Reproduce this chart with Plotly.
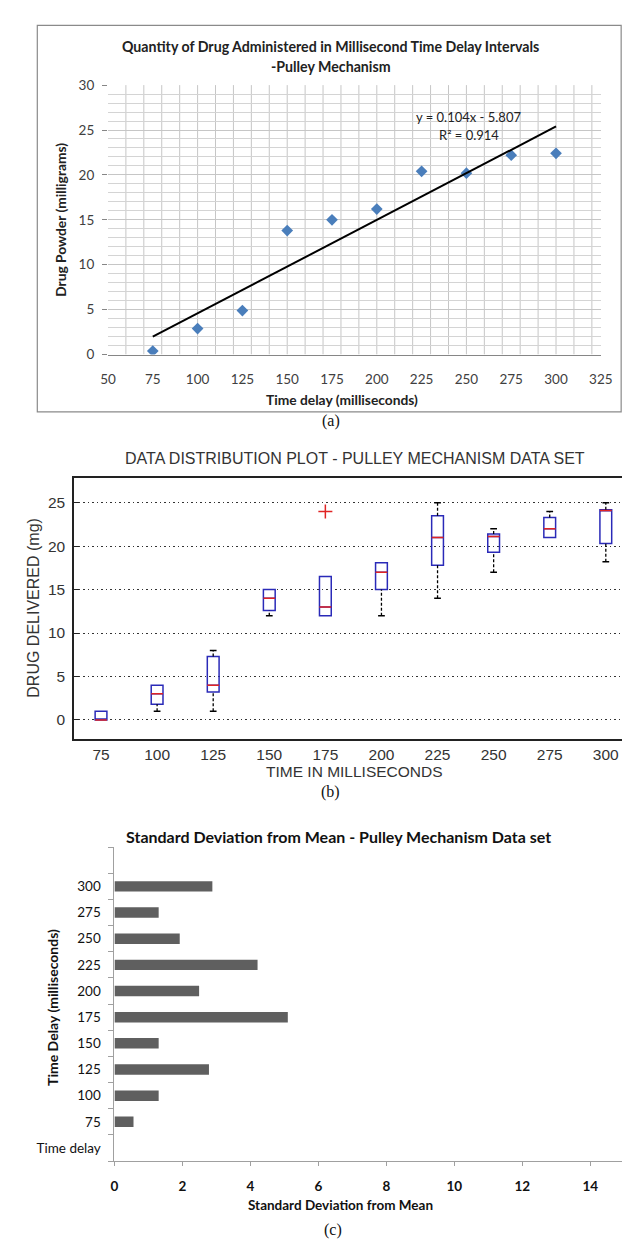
import plotly.graph_objects as go

W, H = 630, 1242

# ---------------- data ----------------
# (a) scatter: mean drug powder per time delay
time_delay = [75, 100, 125, 150, 175, 200, 225, 250, 275, 300]
drug_powder = [0.4, 2.9, 4.9, 13.8, 15.0, 16.2, 20.4, 20.2, 22.2, 22.4]
trend_slope = 0.104
trend_intercept = -5.807
trend_r2 = 0.914

# (b) box plot statistics
box_labels = ["75", "100", "125", "150", "175", "200", "225", "250", "275", "300"]
box_q1 = [0, 1.8, 3.2, 12.6, 12.0, 15.0, 17.8, 19.3, 21.0, 20.3]
box_median = [0, 3.0, 4.0, 14.0, 13.0, 17.0, 21.0, 21.1, 22.0, 24.1]
box_q3 = [1.0, 4.0, 7.3, 15.0, 16.5, 18.1, 23.5, 21.4, 23.3, 24.2]
box_wlow = [0, 1.0, 1.0, 12.0, 12.0, 12.0, 14.0, 17.0, 21.0, 18.2]
box_whigh = [1.0, 4.0, 8.0, 15.0, 16.5, 18.1, 25.0, 22.0, 24.0, 25.0]
outlier_label = ["175"]
outlier_value = [24.0]

# (c) standard deviation bars
sd_labels = ["Time delay", "75", "100", "125", "150", "175", "200", "225", "250", "275", "300", " "]
sd_values = [None, 0.56, 1.30, 2.78, 1.30, 5.10, 2.49, 4.21, 1.92, 1.30, 2.88, None]


def px_x(p):
    return p / W


def px_y(p):
    return 1 - p / H


CAL = "Lato"
ARIAL = "Liberation Sans"
TIMES = "Liberation Serif"

fig = go.Figure()

# ---------------- panel (a) ----------------
fig.add_trace(go.Scatter(
    x=time_delay, y=drug_powder, mode="markers",
    marker=dict(symbol="diamond", size=9, color="#4a7ebb"),
    xaxis="x", yaxis="y", hoverinfo="x+y"))
tx = [min(time_delay), max(time_delay)]
fig.add_trace(go.Scatter(
    x=tx, y=[trend_slope * v + trend_intercept for v in tx], mode="lines",
    line=dict(color="black", width=2), xaxis="x", yaxis="y"))

# ---------------- panel (b) ----------------
pos = list(range(1, len(box_labels) + 1))
BW = 0.21
fig.add_trace(go.Box(
    x=pos, q1=box_q1, median=box_median, q3=box_q3,
    lowerfence=box_q1, upperfence=box_q3, width=BW,
    line=dict(color="#2a2ab8", width=1.5), fillcolor="rgba(0,0,0,0)",
    boxpoints=False, xaxis="x2", yaxis="y2", whiskerwidth=0))

# whiskers (dashed)
wx, wy = [], []
for p, lo, q1, q3, hi in zip(pos, box_wlow, box_q1, box_q3, box_whigh):
    if q1 > lo:
        wx += [p, p, None]
        wy += [lo, q1, None]
    if hi > q3:
        wx += [p, p, None]
        wy += [q3, hi, None]
fig.add_trace(go.Scatter(x=wx, y=wy, mode="lines",
                         line=dict(color="black", width=1.3, dash="3px,2px"),
                         xaxis="x2", yaxis="y2", hoverinfo="skip"))
# caps
cx, cy = [], []
CW = 0.06
for p, lo, q1, q3, hi in zip(pos, box_wlow, box_q1, box_q3, box_whigh):
    if q1 > lo:
        cx += [p - CW, p + CW, None]
        cy += [lo, lo, None]
    if hi > q3:
        cx += [p - CW, p + CW, None]
        cy += [hi, hi, None]
fig.add_trace(go.Scatter(x=cx, y=cy, mode="lines",
                         line=dict(color="black", width=1.5),
                         xaxis="x2", yaxis="y2", hoverinfo="skip"))
# medians (red)
mx, my = [], []
for p, m in zip(pos, box_median):
    mx += [p - BW / 2, p + BW / 2, None]
    my += [m, m, None]
fig.add_trace(go.Scatter(x=mx, y=my, mode="lines",
                         line=dict(color="#e02424", width=1.5),
                         xaxis="x2", yaxis="y2", hoverinfo="skip"))
# outlier
fig.add_trace(go.Scatter(
    x=[box_labels.index(l) + 1 for l in outlier_label], y=outlier_value,
    mode="markers",
    marker=dict(symbol="cross-thin", size=10, line=dict(color="#e02424", width=1.5)),
    xaxis="x2", yaxis="y2"))

# ---------------- panel (c) ----------------
fig.add_trace(go.Bar(
    x=sd_values, y=sd_labels, orientation="h",
    marker=dict(color="#5f5f5f", line=dict(width=0)),
    xaxis="x3", yaxis="y3"))

# ---------------- layout ----------------
grid_a = "#c6c6c6"
fig.update_layout(
    width=W, height=H, margin=dict(l=0, r=0, t=0, b=0),
    paper_bgcolor="white", plot_bgcolor="white", showlegend=False,
    bargap=0.6,
    xaxis=dict(domain=[px_x(95), px_x(604)], range=[50, 325], dtick=25, tick0=50,
               showgrid=False, zeroline=False, showline=True, linecolor="#868686",
               linewidth=1, ticks="", ticklabelstandoff=12,
               tickfont=dict(family=CAL, size=13.5, color="#404040"), anchor="y"),
    yaxis=dict(domain=[px_y(343), px_y(70)], range=[0, 30], dtick=5,
               showgrid=True, gridcolor=grid_a, gridwidth=1, zeroline=False,
               showline=False, ticks="outside", ticklen=5, tickcolor="#868686",
               ticklabelstandoff=5,
               minor=dict(dtick=1, showgrid=True, gridcolor="#d4d4d4", gridwidth=1),
               tickfont=dict(family=CAL, size=13.5, color="#404040"), anchor="x"),
    xaxis2=dict(domain=[px_x(60), 1], range=[0.52, 10.36], tickvals=pos,
                ticktext=box_labels, showgrid=False, zeroline=False, showline=True,
                mirror=True, linecolor="#222", linewidth=1.6, ticks="",
                ticklabelstandoff=1,
                tickfont=dict(family=ARIAL, size=15.5, color="#333"), anchor="y2"),
    yaxis2=dict(domain=[px_y(732), px_y(468)], range=[-2.15, 27.85],
                tickvals=[0, 5, 10, 15, 20, 25], showgrid=True, gridcolor="#333",
                gridwidth=1.2, griddash="1.5px,3px", zeroline=False, showline=True,
                linecolor="#222", linewidth=1.6, ticks="inside", ticklen=5,
                tickcolor="#222", ticklabelstandoff=4,
                tickfont=dict(family=ARIAL, size=15.5, color="#333"), anchor="x2"),
    xaxis3=dict(domain=[px_x(101.7), 1], range=[0, 15.05], dtick=2, tick0=0,
                showgrid=False, zeroline=False, showline=True, linecolor="#a0a0a0",
                linewidth=1, ticks="outside", ticklen=4, tickcolor="#a0a0a0",
                ticklabelstandoff=9,
                tickfont=dict(family=CAL, size=13.5, color="#111", weight="bold"),
                anchor="y3"),
    yaxis3=dict(domain=[px_y(1160), px_y(842)], type="category",
                categoryorder="array", categoryarray=sd_labels,
                range=[-0.5, len(sd_labels) - 0.5], tickson="boundaries",
                showgrid=False, zeroline=False, showline=True, linecolor="#a0a0a0",
                linewidth=1, ticks="outside", ticklen=5, tickcolor="#a0a0a0",
                ticklabelstandoff=10,
                tickfont=dict(family=CAL, size=13.5, color="#111"), anchor="x3"),
)

# vertical minor gridlines for panel (a) every 10 ms
shapes = []
for v in range(60, 325, 10):
    shapes.append(dict(type="line", xref="x", yref="y", x0=v, x1=v, y0=0, y1=30,
                       line=dict(color=grid_a, width=1), layer="below"))
# border around panel (a)
shapes.append(dict(type="rect", xref="paper", yref="paper",
                   x0=px_x(22), x1=px_x(625), y0=px_y(401), y1=px_y(9.5),
                   line=dict(color="#8a8a8a", width=1.2), layer="below"))
fig.update_layout(shapes=shapes)


def ann(text, x, y, family, size, color="#222", bold=False, angle=0):
    return dict(text=text, x=px_x(x), y=px_y(y), xref="paper", yref="paper",
                xanchor="center", yanchor="middle", showarrow=False, textangle=angle,
                font=dict(family=family, size=size, color=color,
                          weight="bold" if bold else "normal"))


annotations = [
    # panel (a)
    ann("Quantity of Drug Administered in Millisecond Time Delay Intervals", 325, 31, CAL, 14.2, bold=True),
    ann("-Pulley Mechanism", 325, 51, CAL, 14.2, bold=True),
    ann(f"y = {trend_slope}x - {abs(trend_intercept)}", 467, 102, CAL, 13, color="#222"),
    ann(f"R² = {trend_r2}", 468, 121, CAL, 13, color="#222"),
    ann("Drug Powder (milligrams)", 46, 207, CAL, 13.8, bold=True, angle=-90),
    ann("Time delay (milliseconds)", 337, 389, CAL, 13.8, bold=True),
    ann("(a)", 325, 410, TIMES, 16, color="#111"),
    # panel (b)
    ann("DATA DISTRIBUTION PLOT - PULLEY MECHANISM DATA SET", 350, 448, ARIAL, 16, color="#333"),
    ann("DRUG DELIVERED (mg)", 18, 599, ARIAL, 16, color="#333", angle=-90),
    ann("TIME IN MILLISECONDS", 350, 765, ARIAL, 15.5, color="#333"),
    ann("(b)", 325, 786, TIMES, 16, color="#111"),
    # panel (c)
    ann("Standard Deviation from Mean - Pulley Mechanism Data set", 333, 831, CAL, 16, color="#111", bold=True),
    ann("Time Delay (milliseconds)", 37, 1004, CAL, 14, color="#111", bold=True, angle=-90),
    ann("Standard Deviation from Mean", 335, 1205, CAL, 13.5, color="#111", bold=True),
    ann("(c)", 327, 1230, TIMES, 16, color="#111"),
]
fig.update_layout(annotations=annotations)

fig.write_html("out.html")
